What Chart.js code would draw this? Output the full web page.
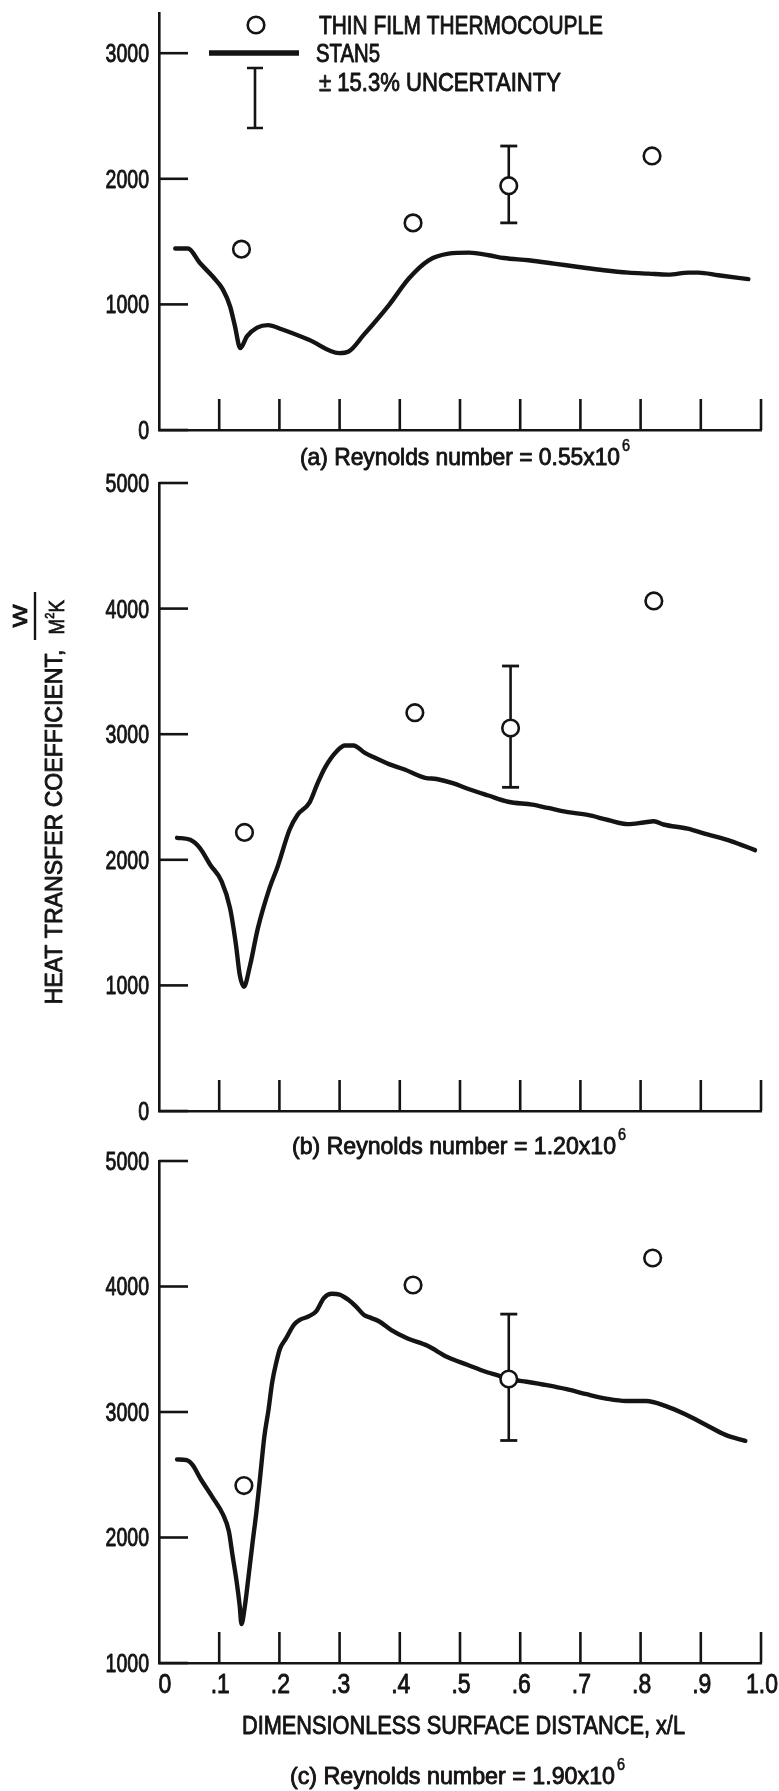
<!DOCTYPE html>
<html><head><meta charset="utf-8">
<script src="https://cdn.jsdelivr.net/npm/chart.js@4.4.1/dist/chart.umd.min.js"></script>
<style>
html,body{margin:0;padding:0;background:#fff;}
body{width:779px;height:1791px;position:relative;overflow:hidden;}
canvas{position:absolute;left:0;}
</style></head><body>
<canvas id="ca" width="779" height="480" style="top:0px"></canvas>
<canvas id="cb" width="779" height="690" style="top:470px"></canvas>
<canvas id="cc" width="779" height="651" style="top:1140px"></canvas>
<script>
// ---------------- DATA ----------------
// x tick values / labels (dimensionless surface distance x/L)
const xTickVals   = [0, 0.1, 0.2, 0.3, 0.4, 0.5, 0.6, 0.7, 0.8, 0.9, 1.0];
const xTickLabels = ['0', '.1', '.2', '.3', '.4', '.5', '.6', '.7', '.8', '.9', '1.0'];
const yTicksA = [0, 1000, 2000, 3000];
const yTicksB = [0, 1000, 2000, 3000, 4000, 5000];
const yTicksC = [1000, 2000, 3000, 4000, 5000];

// (a) Re = 0.55x10^6 : STAN5 curve
const stanAx = [0.027,0.048,0.068,0.090,0.106,0.118,0.126,0.135,0.146,0.163,0.181,0.205,0.249,0.299,0.315,0.340,0.382,0.415,0.448,0.481,0.515,0.548,0.573,0.614,0.656,0.697,0.739,0.780,0.813,0.846,0.880,0.896,0.929,0.979];
const stanAy = [1445,1445,1329,1218,1120,985,830,652,745,815,835,800,718,612,625,757,995,1206,1351,1404,1412,1391,1369,1351,1325,1298,1272,1253,1245,1237,1253,1253,1232,1201];
// (a) thin film thermocouple
const tcAx = [0.137, 0.422, 0.581, 0.819];
const tcAy = [1440, 1649, 1945, 2182];
const errAx = 0.581, errAlow = 1649, errAhigh = 2261;

// (b) Re = 1.20x10^6
const stanBx = [0.030,0.052,0.068,0.085,0.104,0.118,0.128,0.134,0.141,0.151,0.164,0.184,0.197,0.217,0.230,0.250,0.263,0.276,0.296,0.309,0.323,0.342,0.356,0.382,0.408,0.442,0.461,0.488,0.514,0.547,0.580,0.620,0.646,0.679,0.712,0.746,0.779,0.805,0.822,0.838,0.878,0.911,0.950,0.990];
const stanBy = [2175,2159,2093,1961,1829,1615,1318,1088,989,1154,1450,1780,1945,2241,2357,2455,2604,2736,2868,2910,2910,2851,2818,2762,2719,2653,2643,2610,2564,2512,2462,2439,2413,2380,2357,2317,2284,2297,2307,2281,2248,2202,2149,2077];
const tcBx = [0.142, 0.425, 0.584, 0.822];
const tcBy = [2218, 3171, 3049, 4061];
const errBx = 0.584, errBlow = 2577, errBhigh = 3543;

// (c) Re = 1.90x10^6
const stanCx = [0.030,0.046,0.056,0.069,0.089,0.106,0.116,0.122,0.129,0.134,0.137,0.142,0.149,0.155,0.162,0.168,0.175,0.182,0.188,0.195,0.201,0.211,0.224,0.234,0.248,0.261,0.274,0.287,0.300,0.314,0.327,0.340,0.353,0.366,0.386,0.413,0.446,0.479,0.512,0.545,0.564,0.581,0.611,0.644,0.677,0.710,0.743,0.776,0.809,0.842,0.875,0.908,0.941,0.974];
const stanCy = [2622,2616,2576,2468,2320,2186,2051,1862,1647,1458,1310,1431,1701,1943,2212,2482,2805,3020,3236,3398,3505,3586,3694,3734,3761,3802,3909,3942,3936,3896,3842,3775,3748,3721,3653,3586,3527,3438,3376,3317,3290,3263,3241,3214,3182,3142,3107,3088,3088,3047,2980,2899,2818,2770];
const tcCx = [0.141, 0.422, 0.581, 0.820];
const tcCy = [2414, 4012, 3263, 4227];
const errCx = 0.581, errClow = 2773, errChigh = 3780;

// ---------------- RENDERING ----------------
const INK = '#141414';
const FONT = '"Liberation Sans", Arial, sans-serif';

function zip(xs, ys) { return xs.map((x, i) => ({x: x, y: ys[i]})); }

function txt(ctx, s, x, y, o) {
  o = o || {};
  const size = o.size || 25, cap = size * 0.716;
  ctx.save();
  ctx.font = size + 'px ' + FONT;
  const w = ctx.measureText(s).width;
  const sx = o.w ? o.w / w : (o.sx || 0.8);
  ctx.translate(x, y);
  if (o.rot) ctx.rotate(o.rot);
  ctx.scale(sx, 1);
  ctx.textAlign = o.align || 'left';
  ctx.textBaseline = 'alphabetic';
  ctx.fillStyle = INK;
  ctx.strokeStyle = INK;
  ctx.lineWidth = o.bold === undefined ? 0.9 : o.bold;
  ctx.lineJoin = 'round';
  ctx.fillText(s, 0, cap / 2);
  if (ctx.lineWidth > 0) ctx.strokeText(s, 0, cap / 2);
  ctx.restore();
  return w * sx;
}

function makeDecor(cfg) {
  return {
    id: 'decor',
    afterDraw(chart) {
      const ctx = chart.ctx, xs = chart.scales.x, ys = chart.scales.y, ca = chart.chartArea;
      const off = cfg.top; // page -> canvas offset
      ctx.save();
      ctx.strokeStyle = INK; ctx.lineWidth = 2.6; ctx.lineCap = 'butt';
      // inward y ticks + labels
      cfg.yTicks.forEach(v => {
        const py = ys.getPixelForValue(v);
        ctx.beginPath(); ctx.moveTo(ca.left, py); ctx.lineTo(ca.left + 29, py); ctx.stroke();
        txt(ctx, String(v), 149, py, {size: 25, sx: 0.78, align: 'right'});
      });
      // inward x ticks
      xTickVals.forEach((v, i) => {
        if (v === 0) return;
        const px = xs.getPixelForValue(v);
        ctx.beginPath(); ctx.moveTo(px, ca.bottom); ctx.lineTo(px, ca.bottom - 31); ctx.stroke();
      });
      if (cfg.xLabels) {
        xTickVals.forEach((v, i) => {
          const px = xs.getPixelForValue(v);
          txt(ctx, xTickLabels[i], px + (i === 0 ? 6 : 1), ca.bottom + 20, {size: 28, sx: 0.82, align: 'center'});
        });
        txt(ctx, 'DIMENSIONLESS SURFACE DISTANCE, x/L', 242, 1725 - off, {size: 25, w: 443});
      }
      // caption
      const c = cfg.caption;
      txt(ctx, c.text, c.x0, c.y - off, {size: 24, w: c.x1 - c.x0});
      txt(ctx, '6', c.x1 + 2, c.y - off - 11, {size: 17, sx: 0.85, bold: 0.6});
      if (cfg.legend) {
        ctx.lineWidth = 2.6;
        ctx.beginPath(); ctx.arc(256, 25, 8.3, 0, Math.PI * 2);
        ctx.fillStyle = '#fff'; ctx.fill(); ctx.stroke();
        ctx.lineWidth = 5.5;
        ctx.beginPath(); ctx.moveTo(209, 53); ctx.lineTo(299, 53); ctx.stroke();
        ctx.lineWidth = 2.6;
        ctx.beginPath();
        ctx.moveTo(255, 68); ctx.lineTo(255, 128);
        ctx.moveTo(247, 68); ctx.lineTo(263, 68);
        ctx.moveTo(247, 128); ctx.lineTo(263, 128);
        ctx.stroke();
        txt(ctx, 'THIN FILM THERMOCOUPLE', 319, 25, {size: 25, w: 284});
        txt(ctx, 'STAN5', 316, 53, {size: 25, w: 64});
        txt(ctx, '\u00B1 15.3% UNCERTAINTY', 319, 82, {size: 25, w: 242});
      }
      if (cfg.yTitle) {
        const R = -Math.PI / 2;
        txt(ctx, 'HEAT TRANSFER COEFFICIENT,', 53, 827 - off, {size: 24, w: 355, rot: R, align: 'center'});
        // fraction W / M^2K
        txt(ctx, 'W', 20, 616 - off, {size: 20, w: 23, rot: R, align: 'center', bold: 0.8});
        ctx.lineWidth = 2.4;
        ctx.beginPath(); ctx.moveTo(35, 592 - off); ctx.lineTo(35, 640 - off); ctx.stroke();
        // M, superscript 2, K
        ctx.save();
        ctx.translate(56, 615 - off); ctx.rotate(R);
        ctx.fillStyle = INK; ctx.strokeStyle = INK; ctx.lineWidth = 0.8;
        ctx.textBaseline = 'alphabetic';
        ctx.textAlign = 'left';
        ctx.scale(0.85, 1);
        ctx.font = '22px ' + FONT;
        ctx.fillText('M', -23, 7.9); ctx.strokeText('M', -23, 7.9);
        ctx.font = '13px ' + FONT;
        ctx.fillText('2', -4.5, -2.5); ctx.strokeText('2', -4.5, -2.5);
        ctx.font = '22px ' + FONT;
        ctx.fillText('K', 3, 7.9); ctx.strokeText('K', 3, 7.9);
        ctx.restore();
      }
      ctx.restore();
    }
  };
}

function makeChart(id, cfg) {
  const el = document.getElementById(id);
  const H = el.height;
  return new Chart(el, {
    type: 'line',
    data: {
      datasets: [
        { // thermocouple points (top)
          data: zip(cfg.tcx, cfg.tcy), showLine: false,
          pointStyle: 'circle', pointRadius: 8.3, pointBorderWidth: 2.6,
          pointBackgroundColor: '#fff', pointBorderColor: INK, clip: false
        },
        { // uncertainty bar
          data: [{x: cfg.ex, y: cfg.elow}, {x: cfg.ex, y: cfg.ehigh}],
          borderColor: INK, borderWidth: 2.6, showLine: true,
          pointStyle: 'line', pointRadius: 8.5, pointBorderWidth: 2.8,
          pointBorderColor: INK, clip: false
        },
        { // STAN5
          data: zip(cfg.sx, cfg.sy), borderColor: INK, borderWidth: 4.4,
          pointRadius: 0, cubicInterpolationMode: 'monotone',
          borderCapStyle: 'round', borderJoinStyle: 'round', fill: false, clip: false
        }
      ]
    },
    options: {
      responsive: false, animation: false, events: [],
      layout: { padding: { left: 159, right: 18, top: cfg.pt, bottom: H - cfg.pb } },
      plugins: { legend: { display: false }, tooltip: { enabled: false } },
      scales: {
        x: {
          type: 'linear', min: 0, max: 1,
          ticks: { display: false }, grid: { display: false, drawTicks: false },
          border: { display: true, color: INK, width: 2.6 },
          afterFit: s => { s.height = 0; s.paddingLeft = 0; s.paddingRight = 0; }
        },
        y: {
          type: 'linear', min: cfg.ymin, max: cfg.ymax,
          ticks: { display: false }, grid: { display: false, drawTicks: false },
          border: { display: true, color: INK, width: 2.6 },
          afterFit: s => { s.width = 0; s.paddingTop = 0; s.paddingBottom = 0; }
        }
      }
    },
    plugins: [makeDecor(cfg)]
  });
}

makeChart('ca', {
  top: 0, pt: 13, pb: 430, ymin: 0, ymax: 3320, yTicks: yTicksA,
  sx: stanAx, sy: stanAy, tcx: tcAx, tcy: tcAy, ex: errAx, elow: errAlow, ehigh: errAhigh,
  caption: {text: '(a) Reynolds number = 0.55x10', x0: 300, x1: 620, y: 456},
  legend: true
});
makeChart('cb', {
  top: 470, pt: 13, pb: 641, ymin: 0, ymax: 5000, yTicks: yTicksB,
  sx: stanBx, sy: stanBy, tcx: tcBx, tcy: tcBy, ex: errBx, elow: errBlow, ehigh: errBhigh,
  caption: {text: '(b) Reynolds number = 1.20x10', x0: 292, x1: 616, y: 1145},
  yTitle: true
});
makeChart('cc', {
  top: 1140, pt: 21, pb: 523, ymin: 1000, ymax: 5000, yTicks: yTicksC,
  sx: stanCx, sy: stanCy, tcx: tcCx, tcy: tcCy, ex: errCx, elow: errClow, ehigh: errChigh,
  caption: {text: '(c) Reynolds number = 1.90x10', x0: 290, x1: 615, y: 1775},
  xLabels: true
});
</script>
</body></html>
